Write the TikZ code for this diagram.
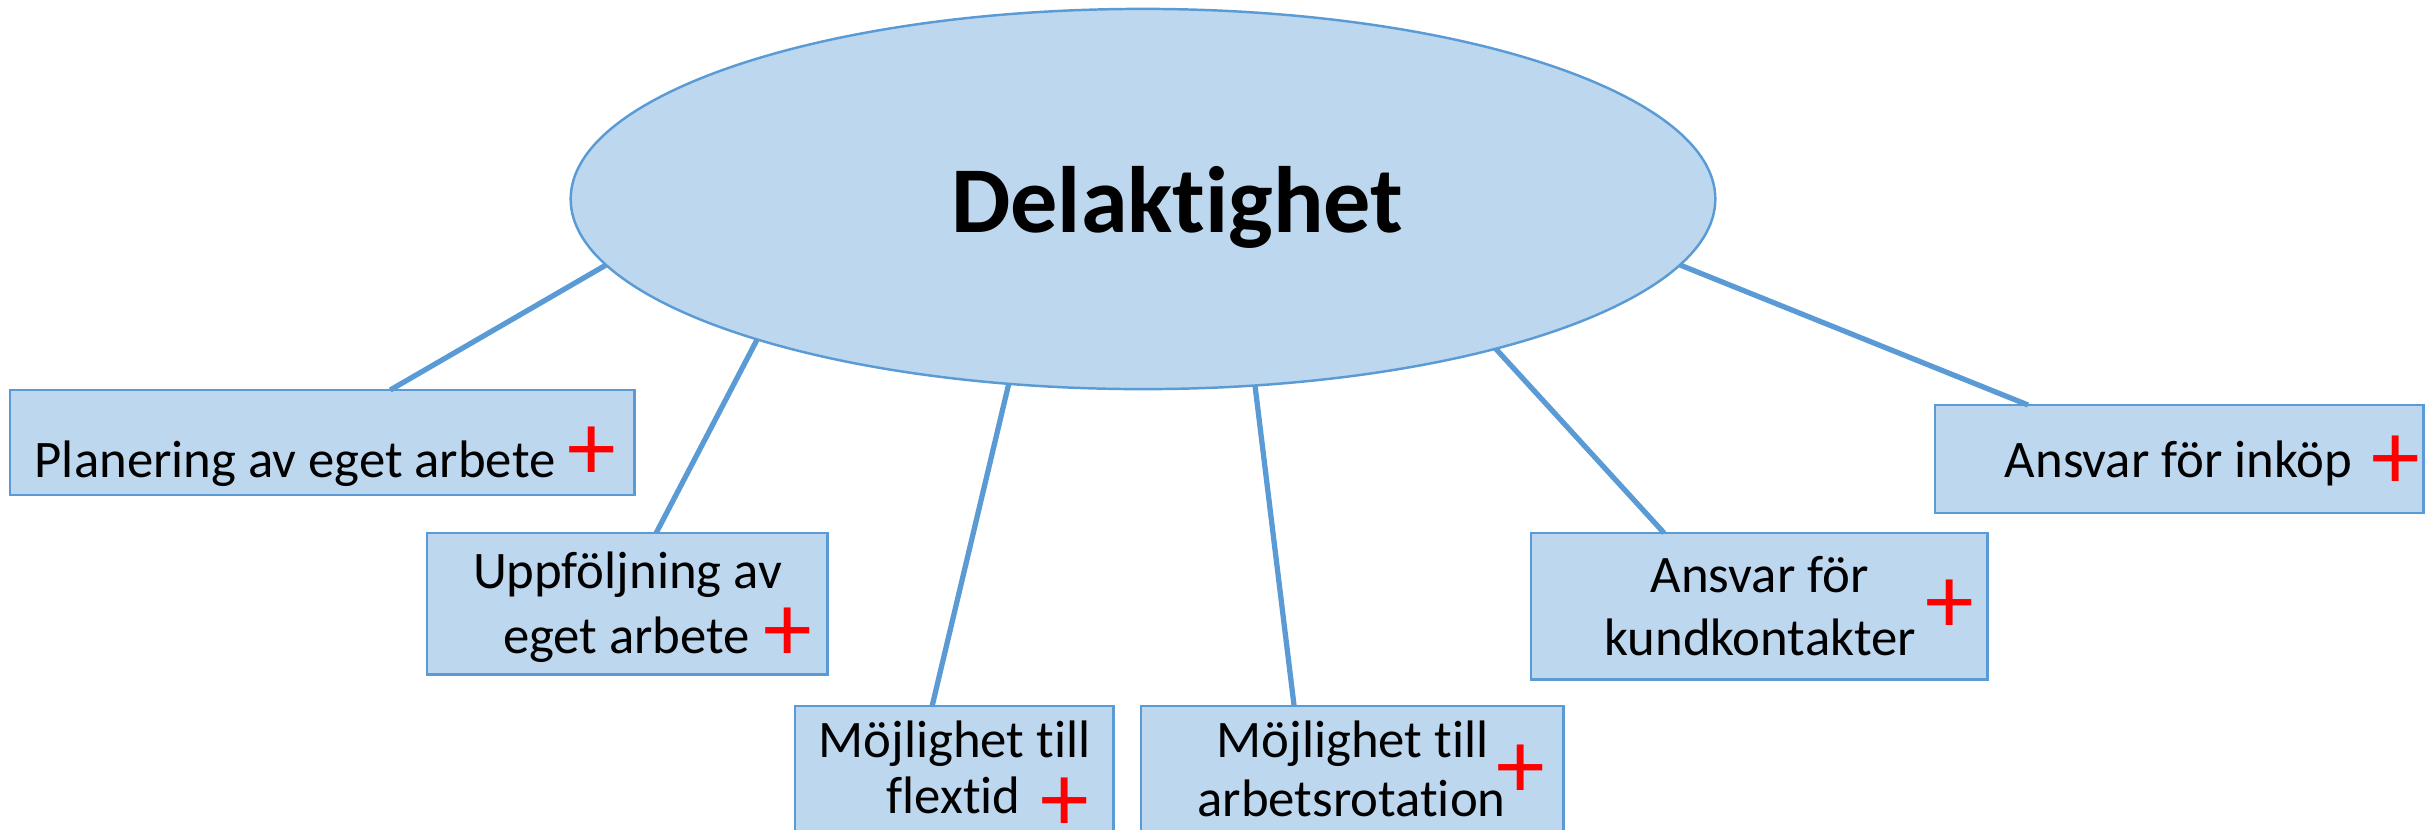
\documentclass[tikz,border=0pt]{standalone}
\usepackage{fontspec}
\setmainfont{Carlito}[Ligatures={NoCommon}]
\usetikzlibrary{shapes.geometric,calc}
\definecolor{boxfill}{HTML}{BDD7EE}
\definecolor{boxline}{HTML}{5B9BD5}
\begin{document}
\begin{tikzpicture}[x=0.01cm,y=-0.01cm,
  item/.style={draw=boxline, fill=boxfill, line width=0.8pt, rectangle,
    anchor=north west, inner sep=0pt, outer sep=0pt},
  itemtext/.style={anchor=base, inner sep=0pt, font=\fontsize{15}{18}\selectfont},
  plusmark/.style={text=red, inner sep=0pt, font=\fontsize{27.7}{30}\selectfont},
  connector/.style={draw=boxline, line width=1.5pt}]
\useasboundingbox (0,0) rectangle (2435,829);
\clip (0,0) rectangle (2435,829);

% central topic
\node[ellipse, draw=boxline, fill=boxfill, line width=0.7pt,
  minimum width=11.44cm, minimum height=3.80cm, inner sep=0pt, outer sep=0pt]
  (hub) at (1143,199) {};
\node[anchor=base, inner sep=0pt, font=\fontsize{26.8}{30}\selectfont\bfseries]
  (hubtext) at (1177,232) {Delaktighet};

% sub-topic boxes
\node[item, minimum width=6.24cm, minimum height=1.05cm] (b1) at (10,390) {};
\node[item, minimum width=4.00cm, minimum height=1.41cm] (b2) at (427,533) {};
\node[item, minimum width=3.18cm, minimum height=1.60cm] (b3) at (795,706) {};
\node[item, minimum width=4.22cm, minimum height=1.60cm] (b4) at (1141,706) {};
\node[item, minimum width=4.56cm, minimum height=1.46cm] (b5) at (1531,533) {};
\node[item, minimum width=4.88cm, minimum height=1.08cm] (b6) at (1935,405) {};

% box texts
\node[itemtext] (t1) at (295,477) {Planering av eget arbete};
\node[itemtext] (t2a) at (627.5,588) {Uppföljning av};
\node[itemtext] (t2b) at (626.5,653) {eget arbete};
\node[itemtext] (t3a) at (954.5,757) {Möjlighet till};
\node[itemtext] (t3b) at (953.5,813) {flextid};
\node[itemtext] (t4a) at (1352.5,757) {Möjlighet till};
\node[itemtext] (t4b) at (1351.5,816) {arbetsrotation};
\node[itemtext] (t5a) at (1759.5,592) {Ansvar för};
\node[itemtext] (t5b) at (1760,655) {kundkontakter};
\node[itemtext] (t6) at (2178.5,477) {Ansvar för inköp};

% expand markers
\node[plusmark] (p1) at (592,453.5) {+};
\node[plusmark] (p2) at (788,635) {+};
\node[plusmark] (p3) at (1065,805) {+};
\node[plusmark] (p4) at (1521,772) {+};
\node[plusmark] (p5) at (1950,607) {+};
\node[plusmark] (p6) at (2396,463) {+};

% connectors from boxes to the central topic
\draw[connector] ($(b1.north west)!0.609!(b1.north east)$) -- (hub.187.1);
\draw[connector] ($(b2.north west)!0.5725!(b2.north east)$) -- (hub.200.8);
\draw[connector] ($(b3.north west)!0.431!(b3.north east)$) -- (hub.234.6);
\draw[connector] ($(b4.north west)!0.3626!(b4.north east)$) -- (hub.301.5);
\draw[connector] ($(b5.north west)!0.2917!(b5.north east)$) -- (hub.337.3);
\draw[connector] ($(b6.north west)!0.1906!(b6.north east)$) -- (hub.353.4);
\end{tikzpicture}
\end{document}
